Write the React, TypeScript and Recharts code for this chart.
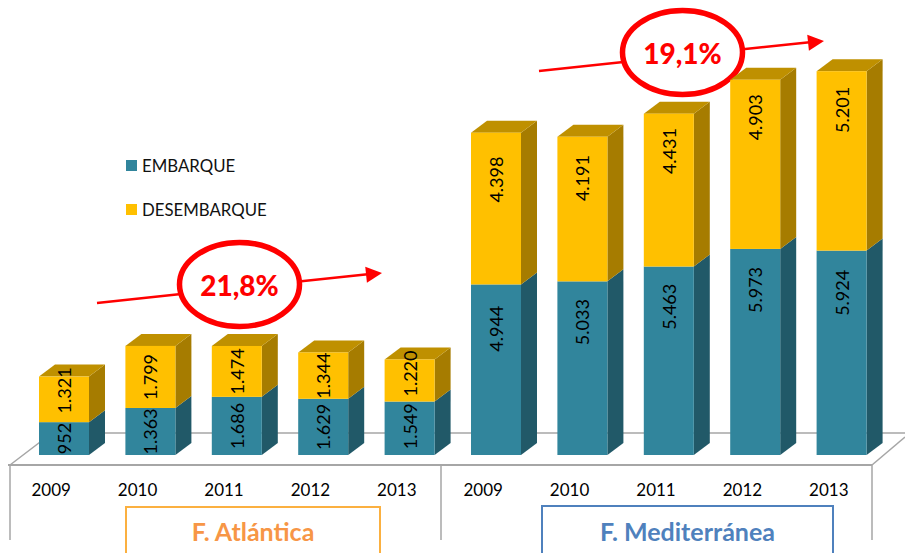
import { BarChart, Bar, XAxis, YAxis, LabelList, Legend, Customized } from "recharts";

const YEARS = ["2009", "2010", "2011", "2012", "2013", "2009", "2010", "2011", "2012", "2013"];
const EMBARQUE = [952, 1363, 1686, 1629, 1549, 4944, 5033, 5463, 5973, 5924];
const DESEMBARQUE = [1321, 1799, 1474, 1344, 1220, 4398, 4191, 4431, 4903, 5201];

const data = YEARS.map((year, i) => ({
  year,
  embarque: EMBARQUE[i],
  desembarque: DESEMBARQUE[i],
}));

const FONT = "Lato, sans-serif";
const DEPTH_X = 16;
const DEPTH_Y = 12;

// the data labels of the original are not centred in the bars, this moves them (px)
const EMBARQUE_NUDGE = [0, 0, 0, 0, -2, -41, -46, -54, -62, -60];
const DESEMBARQUE_NUDGE = [-9, 0, 0, 0, -7, -29, -31, -39, -47, -51];

function Box3D({ x, y, width, height, front, side, top }: any) {
  const r = x + width;
  const b = y + height;
  return (
    <g>
      <polygon
        points={`${r},${y} ${r + DEPTH_X},${y - DEPTH_Y} ${r + DEPTH_X},${b - DEPTH_Y} ${r},${b}`}
        fill={side}
      />
      {top && (
        <polygon
          points={`${x},${y} ${x + DEPTH_X},${y - DEPTH_Y} ${r + DEPTH_X},${y - DEPTH_Y} ${r},${y}`}
          fill={top}
        />
      )}
      <rect x={x} y={y} width={width} height={height} fill={front} />
    </g>
  );
}

function makeLabel(nudge: number[]) {
  return ({ x, y, width, height, value, index }: any) => {
    const cx = x + width / 2;
    const cy = y + height / 2 + nudge[index];
    return (
      <text
        x={cx}
        y={cy}
        transform={`rotate(-90 ${cx} ${cy})`}
        textAnchor="middle"
        dominantBaseline="central"
        fontFamily={FONT}
        fontSize={18}
        fill="#000"
      >
        {value.toLocaleString("de-DE")}
      </text>
    );
  };
}

function Floor() {
  return (
    <g stroke="#a6a6a6" fill="none">
      <path d="M10 465L52 433H905" strokeWidth={1.5} />
      <path d="M872 465L905 437" strokeWidth={1.5} />
      <path d="M8 465H872" strokeWidth={2} />
      <path d="M10 465V540M441 465V540M872 465V540" strokeWidth={1.5} />
    </g>
  );
}

function Growth({ x1, y1, x2, y2, cx, cy, label }: any) {
  const angle = (Math.atan2(y2 - y1, x2 - x1) * 180) / Math.PI;
  return (
    <g>
      <line x1={x1} y1={y1} x2={x2 - 12} y2={y2 + 1} stroke="#ff0000" strokeWidth={2.5} />
      <polygon points="0,0 -16,-8 -16,8" fill="#ff0000" transform={`translate(${x2} ${y2}) rotate(${angle})`} />
      <ellipse cx={cx} cy={cy} rx={60} ry={42} fill="#fff" stroke="#ff0000" strokeWidth={5.5} />
      <text x={cx} y={cy + 11} textAnchor="middle" fontFamily={FONT} fontWeight={900} fontSize={28} fill="#ff0000">
        {label}
      </text>
    </g>
  );
}

function GroupBox({ x, y, width, color, textColor, label }: any) {
  return (
    <g>
      <path d={`M${x} 553V${y}H${x + width}V553`} fill="none" stroke={color} strokeWidth={2} />
      <text x={x + width / 2} y={541} textAnchor="middle" fontFamily={FONT} fontWeight={700} fontSize={25} fill={textColor}>
        {label}
      </text>
    </g>
  );
}

function Annotations() {
  return (
    <g>
      <Growth x1={97} y1={303} x2={382} y2={273} cx={239.5} cy={284.5} label="21,8%" />
      <Growth x1={539} y1={71} x2={824} y2={41} cx={682.5} cy={52.5} label="19,1%" />
      <GroupBox x={126} y={507} width={254} color="#fbb040" textColor="#f79646" label="F. Atlántica" />
      <GroupBox x={542} y={506} width={291} color="#4f81bd" textColor="#4f81bd" label="F. Mediterránea" />
    </g>
  );
}

function YearTick({ x, y, payload }: any) {
  return (
    <text x={x - 13} y={y} textAnchor="middle" fontFamily={FONT} fontSize={17} fill="#000">
      {payload.value}
    </text>
  );
}

function LegendBox() {
  const items = [
    ["EMBARQUE", "#31859c"],
    ["DESEMBARQUE", "#ffc000"],
  ];
  return (
    <div style={{ fontFamily: FONT, fontSize: 16.8, color: "#111" }}>
      {items.map(([name, color]) => (
        <div key={name} style={{ height: 44, display: "flex", alignItems: "center" }}>
          <span style={{ width: 11, height: 11, background: color, marginRight: 5 }} />
          {name}
        </div>
      ))}
    </div>
  );
}

export default function App() {
  return (
    <div style={{ position: "absolute", left: 0, top: 0, width: 905, height: 553, background: "#fff", overflow: "hidden" }}>
      <BarChart
        width={905}
        height={553}
        data={data}
        margin={{ top: 41, right: 20, bottom: 97, left: 21 }}
        barSize={50}
      >
        <Customized component={Floor} />
        <XAxis dataKey="year" interval={0} height={1} axisLine={false} tickLine={false} tick={<YearTick />} tickMargin={35} />
        <YAxis hide domain={[0, 12000]} />
        <Legend
          layout="vertical"
          align="center"
          verticalAlign="middle"
          content={<LegendBox />}
          wrapperStyle={{ left: 126, top: 143, width: 200 }}
        />
        <Bar
          dataKey="embarque"
          name="EMBARQUE"
          stackId="a"
          isAnimationActive={false}
          shape={(p: any) => <Box3D {...p} front="#31859c" side="#215968" />}
        >
          <LabelList dataKey="embarque" content={makeLabel(EMBARQUE_NUDGE)} />
        </Bar>
        <Bar
          dataKey="desembarque"
          name="DESEMBARQUE"
          stackId="a"
          isAnimationActive={false}
          shape={(p: any) => <Box3D {...p} front="#ffc000" side="#a67c00" top="#bf9000" />}
        >
          <LabelList dataKey="desembarque" content={makeLabel(DESEMBARQUE_NUDGE)} />
        </Bar>
        <Customized component={Annotations} />
      </BarChart>
    </div>
  );
}
